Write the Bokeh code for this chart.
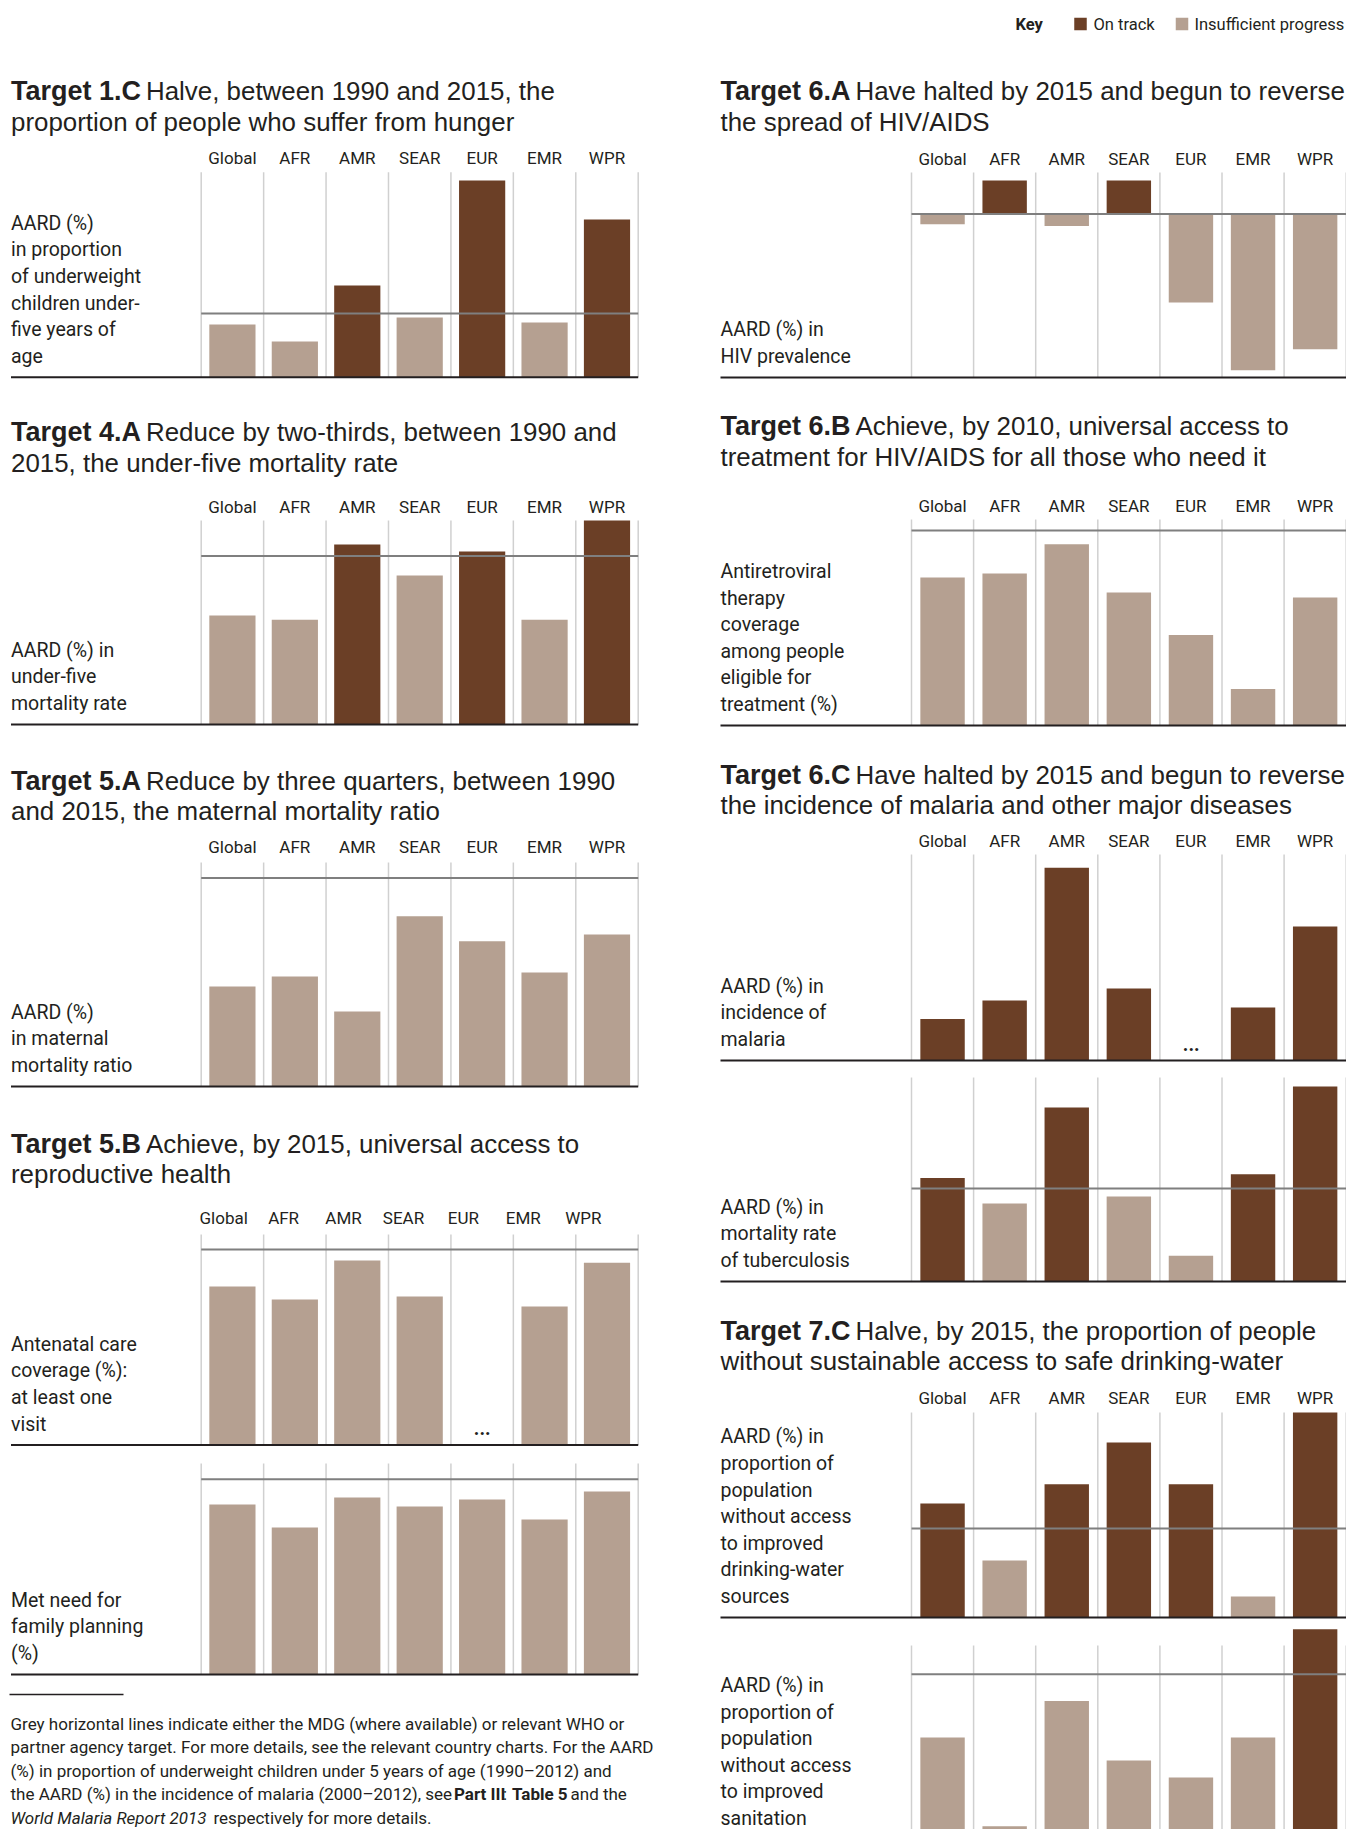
from bokeh.plotting import figure
from bokeh.models import Range1d
from bokeh.core.properties import value
from bokeh.embed import file_html
from bokeh.resources import INLINE

# ---------------- data ----------------
REGIONS = ["Global", "AFR", "AMR", "SEAR", "EUR", "EMR", "WPR"]

# Target 1.C  AARD (%) in proportion of underweight children under five
hunger_aard = [2.23, 1.51, 3.89, 2.53, 8.34, 2.32, 6.69]
hunger_status = ["I", "I", "O", "I", "O", "I", "O"]
hunger_target = 2.7

# Target 4.A  AARD (%) in under-five mortality rate
u5mr_aard = [2.85, 2.74, 4.70, 3.89, 4.52, 2.74, 5.33]
u5mr_status = ["I", "I", "O", "I", "O", "I", "O"]
u5mr_target = 4.4

# Target 5.A  AARD (%) in maternal mortality ratio
mmr_aard = [2.64, 2.90, 1.98, 4.49, 3.83, 3.01, 4.01]
mmr_status = ["I", "I", "I", "I", "I", "I", "I"]
mmr_target = 5.5

# Target 5.B  Antenatal care coverage (%): at least one visit  (EUR not available)
anc_cov = [81.1, 74.4, 94.4, 76.0, None, 70.8, 93.3]
anc_status = ["I", "I", "I", "I", "I", "I", "I"]
anc_target = 100

# Target 5.B  Met need for family planning (%)
fp_met = [87.0, 75.3, 90.6, 86.0, 89.6, 79.4, 93.7]
fp_status = ["I", "I", "I", "I", "I", "I", "I"]
fp_target = 100

# Target 6.A  AARD (%) in HIV prevalence
hiv_aard = [-0.85, 2.8, -1.0, 2.8, -7.35, -13.0, -11.25]
hiv_status = ["I", "O", "I", "O", "I", "I", "I"]
hiv_target = 0

# Target 6.B  Antiretroviral therapy coverage among people eligible (%)
art_cov = [60.7, 62.4, 74.3, 54.6, 37.1, 15.0, 52.5]
art_status = ["I", "I", "I", "I", "I", "I", "I"]
art_target = 80

# Target 6.C  AARD (%) in incidence of malaria  (EUR not available)
malaria_aard = [2.3, 3.33, 10.7, 4.0, None, 2.94, 7.44]
malaria_status = ["O", "O", "O", "O", "O", "O", "O"]
malaria_target = None

# Target 6.C  AARD (%) in mortality rate of tuberculosis
tb_aard = [3.0, 2.26, 5.05, 2.47, 0.75, 3.11, 5.66]
tb_status = ["O", "I", "O", "I", "I", "O", "O"]
tb_target = 2.7

# Target 7.C  AARD (%) in proportion without improved drinking-water
water_aard = [3.46, 1.73, 4.04, 5.31, 4.04, 0.64, 6.22]
water_status = ["O", "I", "O", "O", "O", "I", "O"]
water_target = 2.7

# Target 7.C  AARD (%) in proportion without improved sanitation
san_aard = [1.73, 0.37, 2.29, 1.38, 1.12, 1.73, 3.39]
san_status = ["I", "I", "I", "I", "I", "I", "O"]
san_target = 2.7

# ---------------- style ----------------
DARK = "#6b3f26"
LIGHT = "#b5a091"
TEXT = "#231f20"
GRIDC = "#d0d0d0"
TARGC = "#7f7f7f"
COND = value("Roboto")
SANS = value("Liberation Sans")
STATUS_COLOR = {"O": DARK, "I": LIGHT}

W, H = 1346, 1829

p = figure(width=W, height=H,
           x_range=Range1d(0, W), y_range=Range1d(H, 0),
           output_backend="svg", toolbar_location=None, min_border=0,
           x_axis_location=None, y_axis_location=None,
           outline_line_color=None, background_fill_color="white",
           border_fill_color="white")
p.grid.visible = False

COLS = {
    "L": dict(grid_left=200.7, slot=62.43, text_left=10.5, bar_w=0.74),
    "R": dict(grid_left=911.0, slot=62.1, text_left=720.0, bar_w=0.715),
}
extra_x = {}
for c, cfg in COLS.items():
    gl, s = cfg["grid_left"], cfg["slot"]
    extra_x["x" + c] = Range1d((0 - gl) / s, (W - gl) / s)
p.extra_x_ranges = extra_x

# chart geometry: y of grid top / baseline, and the value domain at each
CHARTS = [
    dict(name="hunger", col="L", top=171.7, base=376.7, lo=0, hi=8.69,
         vals=hunger_aard, st=hunger_status, tgt=hunger_target, lab_y=None,
         ylab=["AARD (%)", "in proportion", "of underweight", "children under-", "five years of", "age"]),
    dict(name="u5mr", col="L", top=520, base=724, lo=0, hi=5.33,
         vals=u5mr_aard, st=u5mr_status, tgt=u5mr_target, lab_y=None,
         ylab=["AARD (%) in", "under-five", "mortality rate"]),
    dict(name="mmr", col="L", top=862, base=1086, lo=0, hi=5.91,
         vals=mmr_aard, st=mmr_status, tgt=mmr_target, lab_y=None,
         ylab=["AARD (%)", "in maternal", "mortality ratio"]),
    dict(name="anc", col="L", top=1234, base=1444.5, lo=0, hi=107.7,
         vals=anc_cov, st=anc_status, tgt=anc_target, lab_y=None,
         ylab=["Antenatal care", "coverage (%):", "at least one", "visit"]),
    dict(name="fp", col="L", top=1463, base=1674, lo=0, hi=108.0,
         vals=fp_met, st=fp_status, tgt=fp_target, lab_y=None,
         ylab=["Met need for", "family planning", "(%)"]),
    dict(name="hiv", col="R", top=172, base=377, lo=-13.6, hi=3.46,
         vals=hiv_aard, st=hiv_status, tgt=hiv_target, lab_y=None,
         ylab=["AARD (%) in", "HIV prevalence"]),
    dict(name="art", col="R", top=519, base=725, lo=0, hi=84.5,
         vals=art_cov, st=art_status, tgt=art_target, lab_y=None,
         ylab=["Antiretroviral", "therapy", "coverage", "among people", "eligible for", "treatment (%)"]),
    dict(name="malaria", col="R", top=854, base=1060, lo=0, hi=11.44,
         vals=malaria_aard, st=malaria_status, tgt=malaria_target, lab_y=None,
         ylab=["AARD (%) in", "incidence of", "malaria"]),
    dict(name="tb", col="R", top=1077, base=1281, lo=0, hi=5.92,
         vals=tb_aard, st=tb_status, tgt=tb_target, lab_y=None,
         ylab=["AARD (%) in", "mortality rate", "of tuberculosis"]),
    dict(name="water", col="R", top=1412, base=1617, lo=0, hi=6.22,
         vals=water_aard, st=water_status, tgt=water_target, lab_y=None,
         ylab=["AARD (%) in", "proportion of", "population", "without access", "to improved",
               "drinking-water", "sources"]),
    dict(name="san", col="R", top=1645, base=1850, lo=0, hi=3.14,
         vals=san_aard, st=san_status, tgt=san_target, lab_y=1818,
         ylab=["AARD (%) in", "proportion of", "population", "without access", "to improved",
               "sanitation"]),
]

extra_y = {}
for ch in CHARTS:
    k = (ch["base"] - ch["top"]) / (ch["hi"] - ch["lo"])
    extra_y[ch["name"]] = Range1d(ch["lo"] + (ch["base"] - H) / k,
                                  ch["lo"] + ch["base"] / k)
p.extra_y_ranges = extra_y

n = len(REGIONS)
for ch in CHARTS:
    cfg = COLS[ch["col"]]
    xn, yn = "x" + ch["col"], ch["name"]
    # vertical column separators
    p.segment(x0=list(range(n + 1)), y0=[ch["lo"]] * (n + 1),
              x1=list(range(n + 1)), y1=[ch["hi"]] * (n + 1),
              line_color=GRIDC, line_width=1.5, x_range_name=xn, y_range_name=yn)
    # bars
    xs, tops, cols = [], [], []
    for i, (v, s) in enumerate(zip(ch["vals"], ch["st"])):
        if v is None:
            p.text(x=[i + 0.5], y=[ch["base"] - 19], text=["…"], text_font=COND,
                   text_font_size="27px", text_align="center", text_baseline="middle",
                   text_color=TEXT, x_range_name=xn)
            continue
        xs.append(i + 0.5)
        tops.append(v)
        cols.append(STATUS_COLOR[s])
    p.vbar(x=xs, top=tops, bottom=0, width=cfg["bar_w"], fill_color=cols,
           line_color=None, x_range_name=xn, y_range_name=yn)
    # target line
    if ch["tgt"] is not None:
        p.segment(x0=[0], y0=[ch["tgt"]], x1=[n], y1=[ch["tgt"]],
                  line_color=TARGC, line_width=2, x_range_name=xn, y_range_name=yn)
    # baseline
    x_start = (cfg["text_left"] - cfg["grid_left"]) / cfg["slot"]
    p.segment(x0=[x_start], y0=[ch["lo"]], x1=[n], y1=[ch["lo"]],
              line_color=TEXT, line_width=2, x_range_name=xn, y_range_name=yn)
    # indicator label (bottom aligned, left of the grid)
    m = len(ch["ylab"])
    last = ch["lab_y"] if ch["lab_y"] is not None else ch["base"] - 21
    ys = [last - (m - 1 - j) * 26.6 for j in range(m)]
    p.text(x=[cfg["text_left"]] * m, y=ys, text=ch["ylab"], text_font=COND,
           text_font_size="19.5px", text_align="left", text_baseline="middle",
           text_color=TEXT)

# panel headings and region labels
PANELS = [
    dict(col="L", y=90.5, bold="Target 1.C", l1="Halve, between 1990 and 2015, the",
         l2="proportion of people who suffer from hunger", ly=157.5, lx=None),
    dict(col="L", y=431.5, bold="Target 4.A", l1="Reduce by two-thirds, between 1990 and",
         l2="2015, the under-five mortality rate", ly=506, lx=None),
    dict(col="L", y=780, bold="Target 5.A", l1="Reduce by three quarters, between 1990",
         l2="and 2015, the maternal mortality ratio", ly=846, lx=None),
    dict(col="L", y=1143, bold="Target 5.B", l1="Achieve, by 2015, universal access to",
         l2="reproductive health", ly=1217,
         lx=[0.36 + 0.96 * i for i in range(7)]),
    dict(col="R", y=90.5, bold="Target 6.A", l1="Have halted by 2015 and begun to reverse",
         l2="the spread of HIV/AIDS", ly=158, lx=None),
    dict(col="R", y=425.5, bold="Target 6.B", l1="Achieve, by 2010, universal access to",
         l2="treatment for HIV/AIDS for all those who need it", ly=505, lx=None),
    dict(col="R", y=774, bold="Target 6.C", l1="Have halted by 2015 and begun to reverse",
         l2="the incidence of malaria and other major diseases", ly=840, lx=None),
    dict(col="R", y=1330, bold="Target 7.C", l1="Halve, by 2015, the proportion of people",
         l2="without sustainable access to safe drinking-water", ly=1397, lx=None),
]
for pn in PANELS:
    cfg = COLS[pn["col"]]
    tl = cfg["text_left"]
    p.text(x=[tl], y=[pn["y"]], text=[pn["bold"]], text_font=SANS, text_font_style="bold",
           text_font_size="27px", text_align="left", text_baseline="middle", text_color=TEXT)
    p.text(x=[tl + 135, tl], y=[pn["y"], pn["y"] + 30.5], text=[pn["l1"], pn["l2"]],
           text_font=SANS, text_font_size="25.9px", text_align="left",
           text_baseline="middle", text_color=TEXT)
    lx = pn["lx"] if pn["lx"] is not None else [i + 0.5 for i in range(n)]
    p.text(x=lx, y=[pn["ly"]] * n, text=REGIONS, text_font=COND, text_font_size="17px",
           text_align="center", text_baseline="middle", text_color=TEXT,
           x_range_name="x" + pn["col"])

# key
p.text(x=[1015], y=[23.5], text=["Key"], text_font=COND, text_font_style="bold",
       text_font_size="16.5px", text_align="left", text_baseline="middle", text_color=TEXT)
p.scatter(x=[1080, 1181.5], y=[23.5, 23.5], marker="square", size=12.5,
          fill_color=[DARK, LIGHT], line_color=None)
p.text(x=[1093, 1194], y=[23.5, 23.5], text=["On track", "Insufficient progress"],
       text_font=COND, text_font_size="16.5px", text_align="left", text_baseline="middle",
       text_color=TEXT)

# footnote
FS = "17px"
FY = [1723, 1746.5, 1770, 1793.5, 1817]
p.segment(x0=[9], y0=[1694], x1=[123], y1=[1694], line_color=TEXT, line_width=1.5)
FOOT = [
    "Grey horizontal lines indicate either the MDG (where available) or relevant WHO or",
    "partner agency target. For more details, see the relevant country charts. For the AARD",
    "(%) in proportion of underweight children under 5 years of age (1990–2012) and",
]
p.text(x=[10] * 3, y=FY[:3], text=FOOT, text_font=COND, text_font_size=FS,
       text_align="left", text_baseline="middle", text_color=TEXT)
p.text(x=[10, 502.5, 570], y=[FY[3]] * 3,
       text=["the AARD (%) in the incidence of malaria (2000–2012), see", ":", "and the"],
       text_font=COND, text_font_size=FS, text_align="left", text_baseline="middle",
       text_color=TEXT)
p.text(x=[453.5, 511.5], y=[FY[3]] * 2, text=["Part III", "Table 5"], text_font=COND,
       text_font_style="bold", text_font_size=FS, text_align="left",
       text_baseline="middle", text_color=TEXT)
p.text(x=[10], y=[FY[4]], text=["World Malaria Report 2013"], text_font=COND,
       text_font_style="italic", text_font_size=FS, text_align="left",
       text_baseline="middle", text_color=TEXT)
p.text(x=[213], y=[FY[4]], text=["respectively for more details."], text_font=COND,
       text_font_size=FS, text_align="left", text_baseline="middle", text_color=TEXT)

open("out.html", "w").write(file_html(p, INLINE))
